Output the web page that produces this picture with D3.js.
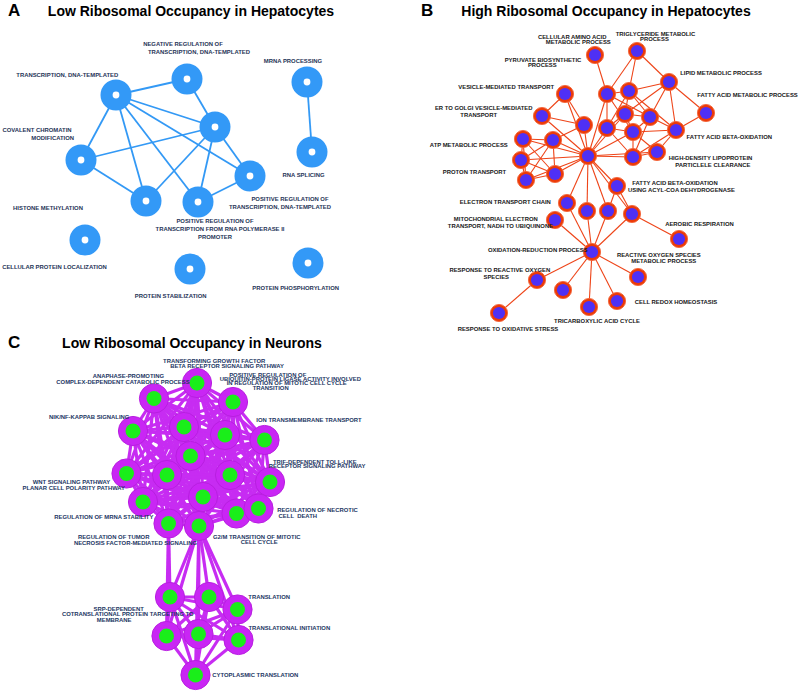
<!DOCTYPE html>
<html>
<head>
<meta charset="utf-8">
<script src="https://cdn.jsdelivr.net/npm/d3@7"></script>
<style>
  body { margin: 0; background: #fff; }
  text { font-family: "Liberation Sans", Arial, sans-serif; font-weight: bold; }
</style>
</head>
<body>
<script>
// panel titles
var titlesA = ["A", "Low Ribosomal Occupancy in Hepatocytes"];
var titlesB = ["B", "High Ribosomal Occupancy in Hepatocytes"];
var titlesC = ["C", "Low Ribosomal Occupancy in Neurons"];

// ---- panel A: node layout (id, x, y in panel layout units) ----
var nodesA = [
  ["a1", 116, 95], ["a2", 187, 79], ["a3", 215, 127], ["a4", 81, 160],
  ["a5", 146, 201], ["a6", 198, 202], ["a7", 250, 176], ["a8", 307, 82],
  ["a9", 312, 152], ["a10", 85, 240], ["a11", 190, 269], ["a12", 308, 263]
];
var edgesA = [
  ["a1","a2"], ["a1","a3"], ["a1","a4"], ["a1","a5"], ["a1","a6"], ["a1","a7"],
  ["a2","a3"], ["a3","a4"], ["a3","a5"], ["a3","a6"], ["a3","a7"],
  ["a4","a5"], ["a6","a7"], ["a8","a9"]
];
// label lines: text, centre, baseline
var labelsA = [
  ["NEGATIVE REGULATION OF", 183, 46.3],
  ["TRANSCRIPTION, DNA-TEMPLATED", 199, 54.3],
  ["MRNA PROCESSING", 293, 63.3],
  ["TRANSCRIPTION, DNA-TEMPLATED", 67.3, 76.7],
  ["COVALENT CHROMATIN", 37, 131.7],
  ["MODIFICATION", 52.7, 139.7],
  ["RNA SPLICING", 303.5, 177.3],
  ["POSITIVE REGULATION OF", 290, 200.7],
  ["TRANSCRIPTION, DNA-TEMPLATED", 280, 208.7],
  ["HISTONE METHYLATION", 48, 210.3],
  ["POSITIVE REGULATION OF", 215, 223],
  ["TRANSCRIPTION FROM RNA POLYMERASE II", 220, 231],
  ["PROMOTER", 215, 239],
  ["CELLULAR PROTEIN LOCALIZATION", 54.5, 268.7],
  ["PROTEIN STABILIZATION", 170.7, 297.7],
  ["PROTEIN PHOSPHORYLATION", 295.7, 290.3]
];

// ---- panel B ----
var nodesB = [
  ["b1", 195, 55], ["b2", 237, 51], ["b3", 269, 82], ["b4", 306, 113],
  ["b5", 165, 94], ["b6", 207, 94], ["b7", 229, 91], ["b8", 142, 116],
  ["b9", 184, 125], ["b10", 225, 114], ["b11", 250, 117], ["b12", 207, 128],
  ["b13", 233, 132], ["b14", 276, 130], ["b15", 123, 139], ["b16", 153, 140],
  ["b17", 121, 160], ["b18", 188, 156], ["b19", 233, 157], ["b20", 257, 152],
  ["b21", 155, 174], ["b22", 126, 180], ["b23", 217, 186], ["b24", 167, 203],
  ["b25", 187, 211], ["b26", 208, 211], ["b27", 232, 214], ["b28", 155, 220],
  ["b29", 279, 239], ["b30", 192, 252], ["b31", 137, 280], ["b32", 163, 290],
  ["b33", 238, 277], ["b34", 189, 307], ["b35", 217, 301], ["b36", 99, 313]
];
var edgesB = [
  ["b1","b6"], ["b2","b3"], ["b2","b6"], ["b2","b7"],
  ["b3","b4"], ["b3","b7"], ["b3","b10"], ["b3","b11"], ["b3","b14"], ["b4","b14"],
  ["b5","b8"], ["b5","b9"], ["b5","b18"],
  ["b6","b7"], ["b6","b11"], ["b6","b12"], ["b6","b13"], ["b6","b18"],
  ["b7","b10"], ["b7","b11"], ["b7","b12"], ["b7","b14"],
  ["b8","b9"], ["b8","b18"], ["b9","b18"], ["b9","b16"],
  ["b10","b11"], ["b10","b12"], ["b10","b13"], ["b10","b18"],
  ["b11","b13"], ["b11","b14"], ["b11","b19"],
  ["b12","b13"], ["b12","b18"], ["b12","b19"],
  ["b13","b14"], ["b13","b18"], ["b13","b19"], ["b13","b20"],
  ["b14","b19"], ["b14","b20"],
  ["b15","b16"], ["b15","b17"], ["b15","b18"], ["b15","b21"], ["b15","b22"],
  ["b16","b17"], ["b16","b18"], ["b16","b21"], ["b16","b22"],
  ["b17","b18"], ["b17","b21"], ["b17","b22"],
  ["b18","b19"], ["b18","b20"], ["b18","b21"], ["b18","b22"], ["b18","b23"],
  ["b18","b24"], ["b18","b25"], ["b18","b26"], ["b18","b27"],
  ["b19","b20"], ["b21","b22"], ["b23","b26"], ["b23","b27"],
  ["b24","b30"], ["b25","b30"], ["b26","b30"], ["b27","b30"], ["b28","b30"],
  ["b27","b29"],
  ["b30","b31"], ["b30","b32"], ["b30","b33"], ["b30","b34"], ["b30","b35"],
  ["b31","b36"]
];
var labelsB = [
  ["CELLULAR AMINO ACID", 172.2, 39],
  ["METABOLIC PROCESS", 178.3, 44.3],
  ["TRIGLYCERIDE METABOLIC", 255.5, 36],
  ["PROCESS", 254.5, 41.3],
  ["PYRUVATE BIOSYNTHETIC", 143, 61.7],
  ["PROCESS", 142.3, 67.3],
  ["LIPID METABOLIC PROCESS", 321, 74.7],
  ["VESICLE-MEDIATED TRANSPORT", 106.2, 88.7],
  ["FATTY ACID METABOLIC PROCESS", 347.5, 97],
  ["ER TO GOLGI VESICLE-MEDIATED", 83.7, 110.3],
  ["TRANSPORT", 78.7, 116.7],
  ["FATTY ACID BETA-OXIDATION", 329.3, 139],
  ["ATP METABOLIC PROCESS", 68.8, 146.7],
  ["HIGH-DENSITY LIPOPROTEIN", 310.5, 160.3],
  ["PARTICLELE CLEARANCE", 312.8, 166.7],
  ["PROTON TRANSPORT", 74.5, 174.3],
  ["FATTY ACID BETA-OXIDATION", 275, 185],
  ["USING ACYL-COA DEHYDROGENASE", 281.5, 191.7],
  ["ELECTRON TRANSPORT CHAIN", 105.3, 204],
  ["MITOCHONDRIAL ELECTRON", 95.8, 221.3],
  ["TRANSPORT, NADH TO UBIQUINONE", 100.5, 227.7],
  ["AEROBIC RESPIRATION", 299.5, 225.7],
  ["OXIDATION-REDUCTION PROCESS", 137.8, 251.7],
  ["REACTIVE OXYGEN SPECIES", 258.8, 257.3],
  ["METABOLIC PROCESS", 263.8, 263.3],
  ["RESPONSE TO REACTIVE OXYGEN", 99.8, 271.7],
  ["SPECIES", 96.3, 279],
  ["CELL REDOX HOMEOSTASIS", 276, 303.7],
  ["TRICARBOXYLIC ACID CYCLE", 197, 323],
  ["RESPONSE TO OXIDATIVE STRESS", 108, 331.3]
];

// ---- panel C ----
var nodesC = [
  ["c1", 197, 53], ["c2", 154, 68.5], ["c3", 233, 72], ["c4", 133, 101],
  ["c5", 184, 97], ["c6", 225, 105], ["c7", 264.5, 110], ["c8", 190.5, 126],
  ["c9", 126.5, 143.5], ["c10", 167, 145], ["c11", 230, 145], ["c12", 270, 152],
  ["c13", 143, 172], ["c14", 203, 167], ["c15", 236.5, 183.5], ["c16", 258.5, 178.5],
  ["c17", 168.5, 193.5], ["c18", 199, 196],
  ["c19", 170, 267], ["c20", 209, 267], ["c21", 237.5, 279.5], ["c22", 166.5, 306],
  ["c23", 198.5, 304], ["c24", 238.5, 310], ["c25", 195.5, 345]
];
// adjacency: node -> linked nodes
var adjC = [
  ["c1", "2 3 4 5 6 7 8 9 10 11 12 13 14 15 16 17 18"],
  ["c2", "3 4 5 6 7 8 9 10 11 12 13 14 15 17 18"],
  ["c3", "4 5 6 7 8 9 10 11 12 13 14 15 16 17 18"],
  ["c4", "5 6 7 8 9 10 11 12 13 14 15 17 18"],
  ["c5", "6 7 8 9 10 11 12 13 14 15 16 17 18"],
  ["c6", "7 8 9 10 11 12 13 14 15 16 17 18"],
  ["c7", "8 9 10 11 12 13 14 15 16 17 18"],
  ["c8", "9 10 11 12 13 14 15 16 17 18"],
  ["c9", "10 11 12 13 14 15 16 17 18"],
  ["c10", "11 12 13 14 15 16 17 18"],
  ["c11", "12 13 14 15 16 17 18"],
  ["c12", "13 14 15 16 17 18"],
  ["c13", "14 15 16 17 18"],
  ["c14", "15 16 17 18"],
  ["c15", "16 17 18"],
  ["c16", "17 18"],
  ["c17", "18 19 22"],
  ["c18", "19 20 21 22 23 24 25"],
  ["c19", "20 21 22 23 24 25"],
  ["c20", "21 22 23 24 25"],
  ["c21", "22 23 24 25"],
  ["c22", "23 24 25"],
  ["c23", "24 25"],
  ["c24", "25"]
];
var labelsC = [
  ["TRANSFORMING GROWTH FACTOR", 214.2, 32.7],
  ["BETA RECEPTOR SIGNALING PATHWAY", 227, 37.7],
  ["ANAPHASE-PROMOTING", 128.3, 48.3],
  ["COMPLEX-DEPENDENT CATABOLIC PROCESS", 123, 53.7],
  ["POSITIVE REGULATION OF", 267.7, 46.7],
  ["UBIQUITIN-PROTEIN LIGASE ACTIVITY INVOLVED", 290.3, 51.3],
  ["IN REGULATION OF MITOTIC CELL CYCLE", 286.7, 55.3],
  ["TRANSITION", 270.7, 60.3],
  ["NIK/NF-KAPPAB SIGNALING", 89.2, 89],
  ["ION TRANSMEMBRANE TRANSPORT", 309, 91.7],
  ["TRIF-DEPENDENT TOLL-LIKE", 314.8, 134],
  ["RECEPTOR SIGNALING PATHWAY", 317, 138.3],
  ["WNT SIGNALING PATHWAY", 71.5, 154.3],
  ["PLANAR CELL POLARITY PATHWAY", 73.8, 159.7],
  ["REGULATION OF NECROTIC", 317.5, 181.7],
  ["CELL  DEATH", 297.8, 188.3],
  ["REGULATION OF MRNA STABILITY", 103.8, 189],
  ["REGULATION OF TUMOR", 113.7, 209],
  ["NECROSIS FACTOR-MEDIATED SIGNALING", 135.5, 214.7],
  ["G2/M TRANSITION OF MITOTIC", 256.8, 208.7],
  ["CELL CYCLE", 259.3, 214],
  ["TRANSLATION", 269.2, 268.7],
  ["SRP-DEPENDENT", 118.7, 281],
  ["COTRANSLATIONAL PROTEIN TARGETING TO", 127.8, 286.3],
  ["MEMBRANE", 114.2, 291.7],
  ["TRANSLATIONAL INITIATION", 289.3, 299.7],
  ["CYTOPLASMIC TRANSLATION", 255.3, 347]
];

var width = 800, height = 694;

var svg = d3.select("body").append("svg")
    .attr("width", width)
    .attr("height", height);
svg.append("rect").attr("width", width).attr("height", height).attr("fill", "#fff");

// turn adjacency strings into edge pairs
var edgesC = [];
adjC.forEach(function(a) {
  a[1].split(" ").forEach(function(t) { edgesC.push([a[0], "c" + t]); });
});

function drawPanel(p) {
  var x = d3.scaleLinear().domain([0, 400]).range([p.ox, p.ox + 400]);
  var y = d3.scaleLinear().domain([0, 364]).range([p.oy, p.oy + 364]);
  var byId = new Map(p.nodes.map(function(d) { return [d[0], d]; }));
  var g = svg.append("g");

  g.append("text")
      .attr("x", x(p.letterX)).attr("y", y(p.titleY))
      .attr("font-size", 17).attr("fill", "#000")
      .text(p.title[0]);
  g.append("text")
      .attr("x", x(p.titleX)).attr("y", y(p.titleY))
      .attr("text-anchor", "middle")
      .attr("font-size", 14).attr("fill", "#000")
      .text(p.title[1]);

  g.selectAll("line.edge").data(p.edges).join("line")
      .attr("class", "edge")
      .attr("x1", function(d) { return x(byId.get(d[0])[1]); })
      .attr("y1", function(d) { return y(byId.get(d[0])[2]); })
      .attr("x2", function(d) { return x(byId.get(d[1])[1]); })
      .attr("y2", function(d) { return y(byId.get(d[1])[2]); })
      .attr("stroke", p.edgeColor)
      .attr("stroke-width", p.edgeWidth);

  var node = g.selectAll("g.node").data(p.nodes).join("g")
      .attr("class", "node")
      .attr("transform", function(d) { return "translate(" + x(d[1]) + "," + y(d[2]) + ")"; });
  node.append("circle")
      .attr("r", p.outerR)
      .attr("fill", p.outerColor)
      .attr("stroke", p.ringColor)
      .attr("stroke-width", p.ringWidth);
  node.append("circle")
      .attr("r", p.innerR)
      .attr("fill", p.innerColor);

  g.selectAll("text.lab").data(p.labels).join("text")
      .attr("class", "lab")
      .attr("x", function(d) { return x(d[1]); })
      .attr("y", function(d) { return y(d[2]); })
      .attr("text-anchor", "middle")
      .attr("font-size", 5.9)
      .attr("fill", p.textColor)
      .style("white-space", "pre")
      .text(function(d) { return d[0]; });
}

drawPanel({
  ox: 0, oy: 0, title: titlesA, letterX: 8, titleX: 191, titleY: 16,
  nodes: nodesA, edges: edgesA, labels: labelsA,
  edgeColor: "#3399f5", edgeWidth: 1.8,
  outerR: 15.5, outerColor: "#3399f7", ringColor: "none", ringWidth: 0,
  innerR: 3.4, innerColor: "#fff", textColor: "#1f3457"
});

drawPanel({
  ox: 400, oy: 0, title: titlesB, letterX: 21, titleX: 206, titleY: 16,
  nodes: nodesB, edges: edgesB, labels: labelsB,
  edgeColor: "#ee4418", edgeWidth: 1.1,
  outerR: 8.6, outerColor: "#ec3a08", ringColor: "#f3653a", ringWidth: 0.9,
  innerR: 6.1, innerColor: "#4f30f5", textColor: "#181818"
});

drawPanel({
  ox: 0, oy: 330, title: titlesC, letterX: 8, titleX: 192, titleY: 18,
  nodes: nodesC, edges: edgesC, labels: labelsC,
  edgeColor: "#c72cf2", edgeWidth: 3.2,
  outerR: 14.6, outerColor: "#c926f4", ringColor: "#b81fe0", ringWidth: 1,
  innerR: 7.5, innerColor: "#1aee1a", textColor: "#1c3663"
});
</script>
</body>
</html>
